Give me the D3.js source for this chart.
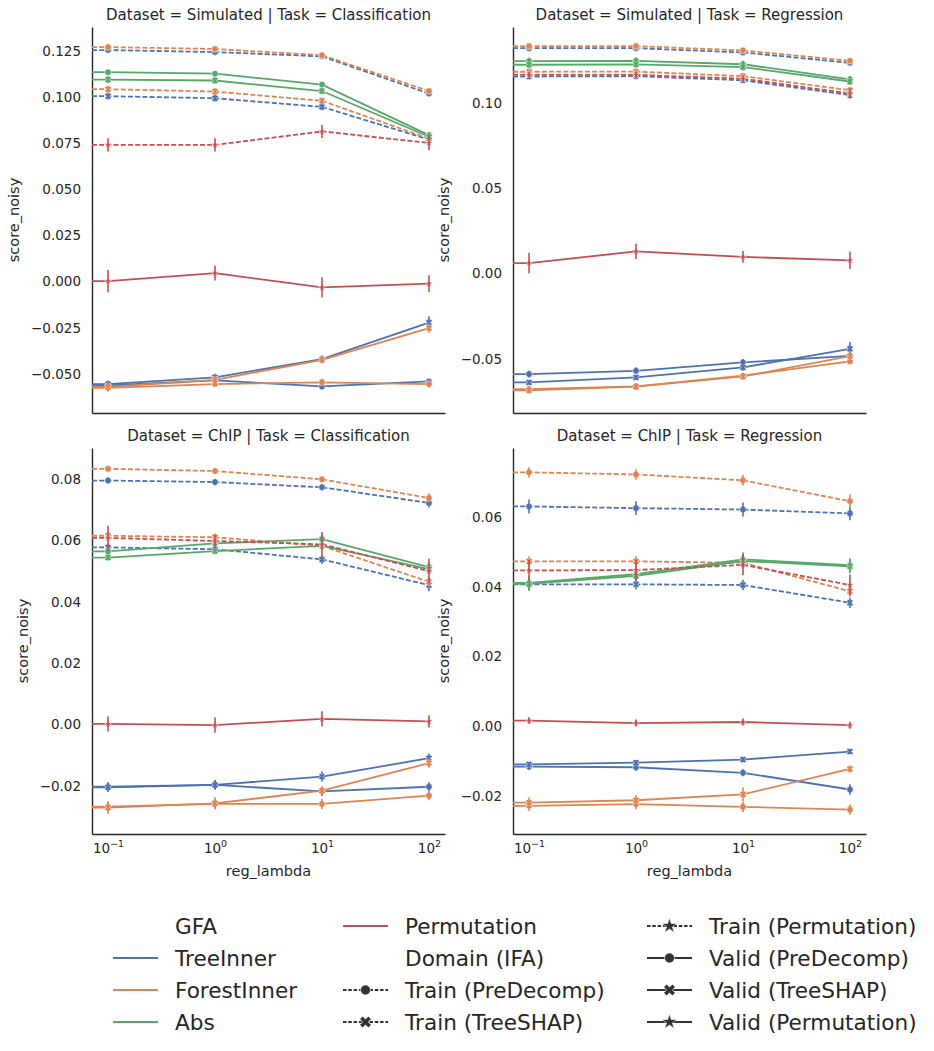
<!DOCTYPE html>
<html>
<head>
<meta charset="utf-8">
<script src="https://cdn.jsdelivr.net/npm/d3@7"></script>
<style>
  body { margin: 0; background: #fff; }
  text { font-family: "DejaVu Sans", sans-serif; fill: #262626; }
</style>
</head>
<body>
<div id="chart"></div>
<script>
// x values and category names
const lambdas = [0.1, 1, 10, 100];
const gfaNames = ["TreeInner", "ForestInner", "Abs", "Permutation"];
const gfaColors = ["#4C72B0", "#DD8452", "#55A868", "#C44E52"];
const domainNames = ["Train (PreDecomp)", "Train (TreeSHAP)", "Train (Permutation)",
                     "Valid (PreDecomp)", "Valid (TreeSHAP)", "Valid (Permutation)"];
const panelTitles = ["Dataset = Simulated | Task = Classification",
                     "Dataset = Simulated | Task = Regression",
                     "Dataset = ChIP | Task = Classification",
                     "Dataset = ChIP | Task = Regression"];
const yTickValues = [
  [-0.05, -0.025, 0, 0.025, 0.05, 0.075, 0.1, 0.125],
  [-0.05, 0, 0.05, 0.1],
  [-0.02, 0, 0.02, 0.04, 0.06, 0.08],
  [-0.02, 0, 0.02, 0.04, 0.06]
];
const yLimits = [[-0.0712, 0.138], [-0.0816, 0.1444], [-0.0357, 0.0901], [-0.031, 0.080]];
const yFormats = [".3f", ".2f", ".2f", ".2f"];

// mean score_noisy per reg_lambda, with error bar half-widths
const simClsSeries = [
  { gfa: "TreeInner", domain: "Train (PreDecomp)", y: [0.1255, 0.1244, 0.1221, 0.1019], err: [0.0008, 0.0008, 0.0008, 0.001] },
  { gfa: "TreeInner", domain: "Train (TreeSHAP)", y: [0.1005, 0.0994, 0.0947, 0.0770], err: [0.0018, 0.0018, 0.0018, 0.002] },
  { gfa: "TreeInner", domain: "Valid (PreDecomp)", y: [-0.0563, -0.0535, -0.0568, -0.0541], err: [0.001, 0.001, 0.0015, 0.0015] },
  { gfa: "TreeInner", domain: "Valid (TreeSHAP)", y: [-0.0556, -0.0519, -0.0420, -0.0222], err: [0.002, 0.002, 0.002, 0.0035] },
  { gfa: "ForestInner", domain: "Train (PreDecomp)", y: [0.1271, 0.1261, 0.1227, 0.1033], err: [0.0008, 0.0008, 0.0008, 0.001] },
  { gfa: "ForestInner", domain: "Train (TreeSHAP)", y: [0.1043, 0.1030, 0.0980, 0.0775], err: [0.0018, 0.0018, 0.0018, 0.002] },
  { gfa: "ForestInner", domain: "Valid (PreDecomp)", y: [-0.0576, -0.0555, -0.0546, -0.0555], err: [0.0012, 0.0012, 0.002, 0.002] },
  { gfa: "ForestInner", domain: "Valid (TreeSHAP)", y: [-0.0571, -0.0532, -0.0424, -0.0252], err: [0.0025, 0.002, 0.002, 0.0025] },
  { gfa: "Abs", domain: "Valid (PreDecomp)", y: [0.1135, 0.1127, 0.1068, 0.0794], err: [0.001, 0.001, 0.001, 0.0015] },
  { gfa: "Abs", domain: "Valid (TreeSHAP)", y: [0.1095, 0.1090, 0.1033, 0.0785], err: [0.0018, 0.0018, 0.0018, 0.0025] },
  { gfa: "Permutation", domain: "Train (Permutation)", y: [0.0741, 0.0741, 0.0814, 0.0752], err: [0.0036, 0.0036, 0.0036, 0.004] },
  { gfa: "Permutation", domain: "Valid (Permutation)", y: [0.0003, 0.0046, -0.0031, -0.0011], err: [0.006, 0.004, 0.0055, 0.0045] }
];

const simRegSeries = [
  { gfa: "TreeInner", domain: "Train (PreDecomp)", y: [0.1320, 0.1320, 0.1295, 0.1234], err: [0.001, 0.001, 0.001, 0.001] },
  { gfa: "TreeInner", domain: "Train (TreeSHAP)", y: [0.1154, 0.1156, 0.1132, 0.1045], err: [0.0018, 0.0018, 0.0018, 0.0018] },
  { gfa: "TreeInner", domain: "Valid (PreDecomp)", y: [-0.0588, -0.0569, -0.0520, -0.0481], err: [0.002, 0.002, 0.002, 0.002] },
  { gfa: "TreeInner", domain: "Valid (TreeSHAP)", y: [-0.0637, -0.0608, -0.0549, -0.0440], err: [0.0015, 0.0015, 0.002, 0.004] },
  { gfa: "ForestInner", domain: "Train (PreDecomp)", y: [0.1332, 0.1332, 0.1307, 0.1246], err: [0.001, 0.001, 0.001, 0.001] },
  { gfa: "ForestInner", domain: "Train (TreeSHAP)", y: [0.1182, 0.1183, 0.1156, 0.1074], err: [0.0018, 0.0018, 0.0018, 0.0018] },
  { gfa: "ForestInner", domain: "Valid (PreDecomp)", y: [-0.0676, -0.0660, -0.0598, -0.0514], err: [0.0015, 0.0015, 0.0015, 0.0015] },
  { gfa: "ForestInner", domain: "Valid (TreeSHAP)", y: [-0.0683, -0.0662, -0.0602, -0.0483], err: [0.002, 0.002, 0.002, 0.003] },
  { gfa: "Abs", domain: "Valid (PreDecomp)", y: [0.1244, 0.1246, 0.1226, 0.1137], err: [0.002, 0.002, 0.002, 0.002] },
  { gfa: "Abs", domain: "Valid (TreeSHAP)", y: [0.1223, 0.1225, 0.1209, 0.1125], err: [0.002, 0.002, 0.002, 0.002] },
  { gfa: "Permutation", domain: "Train (Permutation)", y: [0.1164, 0.1164, 0.1141, 0.1055], err: [0.002, 0.002, 0.002, 0.003] },
  { gfa: "Permutation", domain: "Valid (Permutation)", y: [0.0062, 0.0130, 0.0098, 0.0078], err: [0.006, 0.0045, 0.0035, 0.005] }
];

const chipClsSeries = [
  { gfa: "TreeInner", domain: "Train (PreDecomp)", y: [0.0795, 0.0790, 0.0773, 0.0722], err: [0.001, 0.001, 0.001, 0.0015] },
  { gfa: "TreeInner", domain: "Train (TreeSHAP)", y: [0.0577, 0.0571, 0.0538, 0.0454], err: [0.0012, 0.001, 0.0015, 0.002] },
  { gfa: "TreeInner", domain: "Valid (PreDecomp)", y: [-0.0203, -0.0197, -0.0218, -0.0203], err: [0.0015, 0.0015, 0.0015, 0.0015] },
  { gfa: "TreeInner", domain: "Valid (TreeSHAP)", y: [-0.0205, -0.0197, -0.0170, -0.0110], err: [0.0015, 0.0015, 0.0017, 0.0015] },
  { gfa: "ForestInner", domain: "Train (PreDecomp)", y: [0.0833, 0.0826, 0.0799, 0.0738], err: [0.0008, 0.0008, 0.0008, 0.0015] },
  { gfa: "ForestInner", domain: "Train (TreeSHAP)", y: [0.0615, 0.0610, 0.0582, 0.0465], err: [0.0012, 0.0012, 0.0012, 0.0015] },
  { gfa: "ForestInner", domain: "Valid (PreDecomp)", y: [-0.0268, -0.0259, -0.0259, -0.0232], err: [0.0015, 0.0015, 0.0017, 0.0015] },
  { gfa: "ForestInner", domain: "Valid (TreeSHAP)", y: [-0.0271, -0.0257, -0.0216, -0.0126], err: [0.002, 0.002, 0.0015, 0.0015] },
  { gfa: "Abs", domain: "Valid (PreDecomp)", y: [0.0564, 0.0590, 0.0604, 0.0513], err: [0.001, 0.001, 0.0015, 0.0015] },
  { gfa: "Abs", domain: "Valid (TreeSHAP)", y: [0.0544, 0.0565, 0.0582, 0.0506], err: [0.001, 0.001, 0.001, 0.001] },
  { gfa: "Permutation", domain: "Train (Permutation)", y: [0.0608, 0.0598, 0.0587, 0.0500], err: [0.004, 0.002, 0.004, 0.004] },
  { gfa: "Permutation", domain: "Valid (Permutation)", y: [0.0002, -0.0002, 0.0018, 0.0010], err: [0.0025, 0.0025, 0.0025, 0.002] }
];

const chipRegSeries = [
  { gfa: "TreeInner", domain: "Train (PreDecomp)", y: [0.0632, 0.0627, 0.0623, 0.0612], err: [0.002, 0.002, 0.002, 0.002] },
  { gfa: "TreeInner", domain: "Train (TreeSHAP)", y: [0.0408, 0.0408, 0.0406, 0.0355], err: [0.0015, 0.0015, 0.0015, 0.0015] },
  { gfa: "TreeInner", domain: "Valid (PreDecomp)", y: [-0.0116, -0.0118, -0.0134, -0.0182], err: [0.001, 0.001, 0.001, 0.0015] },
  { gfa: "TreeInner", domain: "Valid (TreeSHAP)", y: [-0.0110, -0.0105, -0.0096, -0.0073], err: [0.0008, 0.0008, 0.0008, 0.0008] },
  { gfa: "ForestInner", domain: "Train (PreDecomp)", y: [0.0730, 0.0724, 0.0707, 0.0647], err: [0.0015, 0.0015, 0.0015, 0.002] },
  { gfa: "ForestInner", domain: "Train (TreeSHAP)", y: [0.0474, 0.0474, 0.0470, 0.0388], err: [0.0015, 0.0015, 0.0015, 0.0015] },
  { gfa: "ForestInner", domain: "Valid (PreDecomp)", y: [-0.0229, -0.0224, -0.0232, -0.0240], err: [0.0015, 0.0015, 0.0015, 0.0015] },
  { gfa: "ForestInner", domain: "Valid (TreeSHAP)", y: [-0.0220, -0.0213, -0.0196, -0.0123], err: [0.0015, 0.0015, 0.002, 0.001] },
  { gfa: "Abs", domain: "Valid (PreDecomp)", y: [0.0412, 0.0437, 0.0480, 0.0463], err: [0.002, 0.002, 0.002, 0.002] },
  { gfa: "Abs", domain: "Valid (TreeSHAP)", y: [0.0409, 0.0432, 0.0475, 0.0460], err: [0.002, 0.002, 0.002, 0.002] },
  { gfa: "Permutation", domain: "Train (Permutation)", y: [0.0448, 0.0449, 0.0464, 0.0406], err: [0.003, 0.003, 0.003, 0.003] },
  { gfa: "Permutation", domain: "Valid (Permutation)", y: [0.0016, 0.0009, 0.0012, 0.0003], err: [0.001, 0.001, 0.001, 0.001] }
];

const panelSeries = [simClsSeries, simRegSeries, chipClsSeries, chipRegSeries];

// layout
const W = 934, H = 1051;
const pw = 353, ph = 386;
const colX = [92, 513], rowY = [27, 448];

const svg = d3.select("#chart").append("svg")
  .attr("width", W).attr("height", H);

const color = d3.scaleOrdinal().domain(gfaNames).range(gfaColors);
const isTrain = d => d.startsWith("Train");
const markerOf = d => d.includes("PreDecomp") ? "circle" : (d.includes("TreeSHAP") ? "x" : "star");

function markerPath(kind, scale) {
  if (kind === "circle") return d3.symbol(d3.symbolCircle, 34 * scale)();
  if (kind === "x") return d3.symbol(d3.symbolCross, 30 * scale)();
  return d3.symbol(d3.symbolStar, 20 * scale)();
}

const x = d3.scaleLog()
  .domain([Math.pow(10, -1.15), Math.pow(10, 2.15)])
  .range([0, pw]);

const supers = { "-1": "\u22121", "0": "0", "1": "1", "2": "2" };

panelSeries.forEach(function (series, i) {
  const col = i % 2, row = Math.floor(i / 2);
  const g = svg.append("g").attr("transform", "translate(" + colX[col] + "," + rowY[row] + ")");

  const y = d3.scaleLinear().domain(yLimits[i]).range([ph, 0]);

  // y axis
  const yAxis = g.append("g")
    .call(d3.axisLeft(y).tickValues(yTickValues[i]).tickFormat(d3.format(yFormats[i]))
      .tickSize(0).tickSizeOuter(0).tickPadding(11));
  yAxis.selectAll("text").style("font-size", "13.5px").style("fill", "#262626");
  yAxis.select(".domain").attr("stroke", "#262626").attr("stroke-width", 1.4);

  // x axis
  const xAxis = g.append("g").attr("transform", "translate(0," + ph + ")")
    .call(d3.axisBottom(x).tickValues(lambdas).tickSize(0).tickSizeOuter(0).tickFormat(""));
  xAxis.select(".domain").attr("stroke", "#262626").attr("stroke-width", 1.4);

  if (row === 1) {
    xAxis.selectAll(".tick").each(function (d) {
      const t = d3.select(this).select("text")
        .attr("y", 19).attr("dy", null)
        .style("font-size", "13.5px").style("fill", "#262626");
      t.text("10");
      t.append("tspan").attr("dy", -6).style("font-size", "9.5px")
        .text(supers[String(Math.round(Math.log10(d)))]);
    });
    g.append("text")
      .attr("x", pw / 2).attr("y", ph + 42)
      .attr("text-anchor", "middle")
      .style("font-size", "14.5px")
      .text("reg_lambda");
  }

  // y label placed left of tick labels
  let maxW = 0;
  yAxis.selectAll("text").each(function () { maxW = Math.max(maxW, this.getBBox().width); });
  g.append("text")
    .attr("transform", "translate(" + (-(11 + maxW + 17)) + "," + (ph / 2) + ") rotate(-90)")
    .attr("text-anchor", "middle")
    .attr("dy", "0.35em")
    .style("font-size", "14.5px")
    .text("score_noisy");

  // facet title
  g.append("text")
    .attr("x", pw / 2).attr("y", -7)
    .attr("text-anchor", "middle")
    .style("font-size", "15px")
    .text(panelTitles[i]);

  // draw series: hue order, then style order
  const ordered = series.slice().sort(function (a, b) {
    return (gfaNames.indexOf(a.gfa) - gfaNames.indexOf(b.gfa)) ||
           (domainNames.indexOf(a.domain) - domainNames.indexOf(b.domain));
  });

  const line = d3.line().x(d => x(d[0])).y(d => y(d[1]));

  ordered.forEach(function (s) {
    const c = color(s.gfa);
    const pts = lambdas.map((l, k) => [l, s.y[k], s.err[k]]);
    // lead-in from the left edge (lambda = 0 is clipped on the log axis)
    const path = [[x.domain()[0], s.y[0]]].concat(pts);
    g.append("path")
      .datum(path)
      .attr("d", line)
      .attr("fill", "none")
      .attr("stroke", c)
      .attr("stroke-width", 1.8)
      .attr("stroke-dasharray", isTrain(s.domain) ? "5,2.2" : null);

    const kind = markerOf(s.domain);
    g.selectAll(null).data(pts).enter().append("path")
      .attr("d", markerPath(kind, 1))
      .attr("transform", d => "translate(" + x(d[0]) + "," + y(d[1]) + ")" + (kind === "x" ? " rotate(45)" : ""))
      .attr("fill", c)
      .attr("stroke", "#fff")
      .attr("stroke-width", 0.6);

    g.selectAll(null).data(pts).enter().append("line")
      .attr("x1", d => x(d[0])).attr("x2", d => x(d[0]))
      .attr("y1", d => y(d[1] - d[2])).attr("y2", d => y(d[1] + d[2]))
      .attr("stroke", c)
      .attr("stroke-width", 1.6);
  });
});

// legend: hue entries then style entries, 3 columns x 4 rows
const legendItems = [{ header: true, label: "GFA" }]
  .concat(gfaNames.map(n => ({ header: false, kind: "hue", label: n })))
  .concat([{ header: true, label: "Domain (IFA)" }])
  .concat(domainNames.map(n => ({ header: false, kind: "style", label: n })));

const legCol = [113, 343, 647];
const legRow0 = 926, legRowStep = 32;
const legend = svg.append("g");

legendItems.forEach(function (it, i) {
  const cx = legCol[Math.floor(i / 4)];
  const cy = legRow0 + (i % 4) * legRowStep;
  const item = legend.append("g").attr("transform", "translate(" + cx + "," + cy + ")");
  if (!it.header) {
    if (it.kind === "hue") {
      item.append("line").attr("x1", 0).attr("x2", 45).attr("y1", 0).attr("y2", 0)
        .attr("stroke", color(it.label)).attr("stroke-width", 2.2);
    } else {
      item.append("line").attr("x1", 0).attr("x2", 45).attr("y1", 0).attr("y2", 0)
        .attr("stroke", "#333").attr("stroke-width", 1.8)
        .attr("stroke-dasharray", isTrain(it.label) ? "3.5,1.8" : null);
      const kind = markerOf(it.label);
      const sc = kind === "circle" ? 2.3 : (kind === "x" ? 2.8 : 3.6);
      item.append("path")
        .attr("d", markerPath(kind, sc))
        .attr("transform", "translate(22.5,0)" + (kind === "x" ? " rotate(45)" : ""))
        .attr("fill", "#333")
        .attr("stroke", "#fff").attr("stroke-width", 0.6);
    }
  }
  item.append("text")
    .attr("x", 62).attr("y", 0).attr("dy", "0.35em")
    .style("font-size", "21.6px")
    .text(it.label);
});
</script>
</body>
</html>
